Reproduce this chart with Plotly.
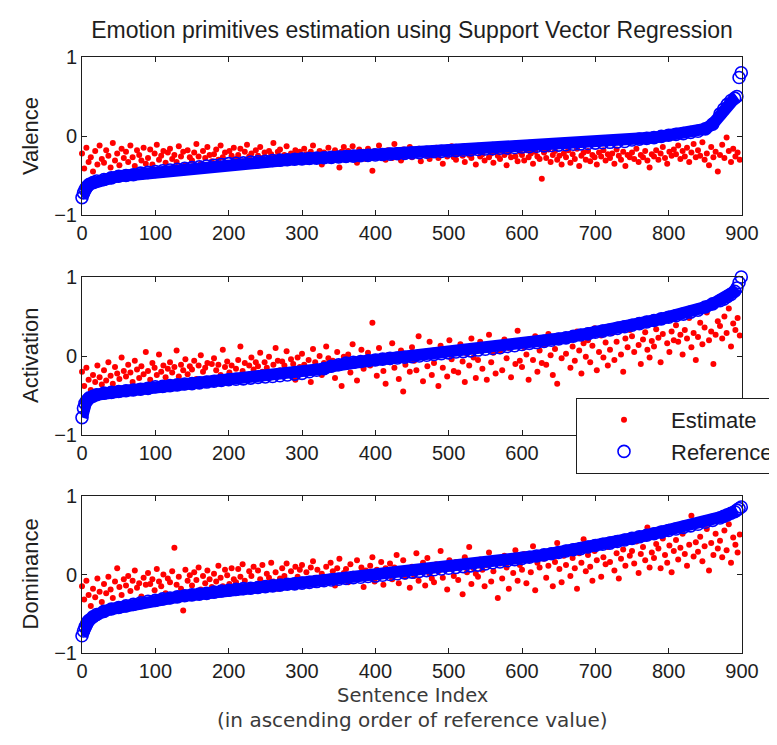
import plotly.graph_objects as go

title_text = "Emotion primitives estimation using Support Vector Regression"
panel_names = ["Valence", "Activation", "Dominance"]
x_ticks = [0, 100, 200, 300, 400, 500, 600, 700, 800, 900]
y_ticks = [-1, 0, 1]
x_title = "Sentence Index"
x_subtitle = "(in ascending order of reference value)"

# sentence indices at which the (sorted) reference values are read
ref_index = [0, 2, 4, 6, 8, 10, 15, 20] + list(range(30, 861, 10)) + [870, 875, 880, 885, 890, 893, 896, 899]

valence_ref = [
    -0.78, -0.72, -0.68, -0.65, -0.63, -0.61, -0.59, -0.57, -0.55, -0.53,
    -0.51, -0.50, -0.49, -0.47, -0.46, -0.45, -0.44, -0.43, -0.42, -0.41,
    -0.40, -0.39, -0.38, -0.37, -0.36, -0.35, -0.345, -0.34, -0.33, -0.325,
    -0.32, -0.31, -0.305, -0.30, -0.295, -0.29, -0.285, -0.28, -0.275, -0.27,
    -0.265, -0.26, -0.255, -0.25, -0.245, -0.24, -0.235, -0.23, -0.225, -0.22,
    -0.215, -0.21, -0.205, -0.20, -0.195, -0.19, -0.185, -0.18, -0.175, -0.17,
    -0.165, -0.16, -0.155, -0.15, -0.145, -0.14, -0.135, -0.13, -0.125, -0.12,
    -0.115, -0.11, -0.105, -0.10, -0.095, -0.09, -0.085, -0.08, -0.075, -0.07,
    -0.05, -0.04, -0.03, -0.02, -0.005, 0.01, 0.02, 0.03, 0.045, 0.06,
    0.09, 0.15, 0.28, 0.34, 0.40, 0.45, 0.48, 0.50, 0.74, 0.80,
]
activation_ref = [
    -0.78, -0.66, -0.60, -0.57, -0.55, -0.53, -0.51, -0.49, -0.47, -0.46,
    -0.45, -0.44, -0.43, -0.42, -0.41, -0.39, -0.385, -0.375, -0.365, -0.355,
    -0.35, -0.34, -0.33, -0.32, -0.31, -0.30, -0.295, -0.29, -0.28, -0.27,
    -0.265, -0.26, -0.25, -0.24, -0.23, -0.22, -0.20, -0.18, -0.16, -0.13,
    -0.11, -0.09, -0.08, -0.07, -0.06, -0.05, -0.04, -0.03, -0.025, -0.015,
    -0.01, 0.0, 0.01, 0.02, 0.03, 0.04, 0.05, 0.055, 0.065, 0.075,
    0.085, 0.095, 0.105, 0.12, 0.13, 0.145, 0.16, 0.17, 0.185, 0.20,
    0.215, 0.23, 0.25, 0.265, 0.28, 0.30, 0.315, 0.33, 0.35, 0.37,
    0.39, 0.41, 0.43, 0.45, 0.47, 0.49, 0.51, 0.53, 0.555, 0.58,
    0.62, 0.66, 0.70, 0.72, 0.75, 0.78, 0.82, 0.86, 0.93, 1.0,
]
dominance_ref = [
    -0.78, -0.72, -0.67, -0.63, -0.60, -0.58, -0.54, -0.51, -0.47, -0.44,
    -0.42, -0.40, -0.38, -0.36, -0.34, -0.33, -0.31, -0.30, -0.285, -0.27,
    -0.26, -0.25, -0.24, -0.225, -0.21, -0.20, -0.19, -0.18, -0.175, -0.165,
    -0.155, -0.145, -0.135, -0.125, -0.12, -0.11, -0.10, -0.09, -0.08, -0.07,
    -0.06, -0.05, -0.04, -0.035, -0.025, -0.02, -0.01, 0.0, 0.01, 0.02,
    0.03, 0.04, 0.05, 0.06, 0.07, 0.08, 0.09, 0.10, 0.11, 0.12,
    0.135, 0.15, 0.16, 0.175, 0.19, 0.205, 0.22, 0.235, 0.25, 0.265,
    0.28, 0.30, 0.315, 0.33, 0.35, 0.37, 0.385, 0.40, 0.42, 0.44,
    0.46, 0.48, 0.50, 0.52, 0.54, 0.56, 0.58, 0.60, 0.62, 0.64,
    0.665, 0.69, 0.72, 0.74, 0.76, 0.78, 0.80, 0.82, 0.84, 0.86,
]

# estimates read at every third sentence index (0, 3, 6, ... 897)
valence_est = [
    -0.22, -0.41, -0.15, -0.33, -0.27, -0.45, -0.19, -0.36, -0.12, -0.29,
    -0.34, -0.18, -0.25, -0.40, -0.09, -0.31, -0.22, -0.37, -0.16, -0.28,
    -0.20, -0.33, -0.12, -0.27, -0.38, -0.18, -0.24, -0.31, -0.15, -0.35,
    -0.28, -0.17, -0.36, -0.22, -0.11, -0.30, -0.25, -0.19, -0.34, -0.21,
    -0.16, -0.29, -0.24, -0.33, -0.13, -0.26, -0.20, -0.37, -0.18, -0.27,
    -0.31, -0.21, -0.10, -0.26, -0.35, -0.19, -0.28, -0.14, -0.24, -0.32,
    -0.23, -0.17, -0.30, -0.12, -0.27, -0.21, -0.34, -0.19, -0.25, -0.15,
    -0.29, -0.24, -0.16, -0.32, -0.20, -0.11, -0.26, -0.22, -0.33, -0.18,
    -0.25, -0.14, -0.28, -0.21, -0.35, -0.19, -0.23, -0.09, -0.27, -0.20,
    -0.17, -0.30, -0.24, -0.13, -0.26, -0.22, -0.31, -0.18, -0.25, -0.20,
    -0.28, -0.16, -0.23, -0.33, -0.20, -0.12, -0.26, -0.24, -0.19, -0.36,
    -0.21, -0.27, -0.15, -0.24, -0.30, -0.18, -0.23, -0.40, -0.20, -0.14,
    -0.25, -0.19, -0.28, -0.13, -0.22, -0.34, -0.17, -0.24, -0.20, -0.29,
    -0.16, -0.23, -0.44, -0.19, -0.27, -0.12, -0.25, -0.21, -0.30, -0.18,
    -0.22, -0.28, -0.10, -0.24, -0.19, -0.31, -0.17, -0.26, -0.21, -0.14,
    -0.27, -0.20, -0.23, -0.16, -0.32, -0.22, -0.18, -0.25, -0.29, -0.19,
    -0.24, -0.15, -0.28, -0.21, -0.35, -0.18, -0.26, -0.20, -0.13, -0.27,
    -0.30, -0.22, -0.19, -0.25, -0.33, -0.17, -0.24, -0.28, -0.21, -0.36,
    -0.18, -0.26, -0.23, -0.31, -0.16, -0.27, -0.22, -0.34, -0.20, -0.25,
    -0.29, -0.19, -0.24, -0.37, -0.21, -0.27, -0.15, -0.26, -0.32, -0.20,
    -0.24, -0.31, -0.18, -0.27, -0.22, -0.35, -0.20, -0.26, -0.29, -0.54,
    -0.21, -0.28, -0.17, -0.33, -0.24, -0.19, -0.30, -0.25, -0.36, -0.22,
    -0.27, -0.18, -0.34, -0.23, -0.29, -0.16, -0.38, -0.25, -0.21, -0.30,
    -0.19, -0.32, -0.24, -0.27, -0.36, -0.21, -0.26, -0.18, -0.31, -0.23,
    -0.28, -0.22, -0.35, -0.17, -0.25, -0.30, -0.20, -0.38, -0.24, -0.27,
    -0.21, -0.29, -0.16, -0.33, -0.24, -0.27, -0.19, -0.31, -0.40, -0.23,
    -0.26, -0.18, -0.30, -0.22, -0.14, -0.28, -0.35, -0.20, -0.25, -0.17,
    -0.23, -0.12, -0.29, -0.19, -0.26, -0.15, -0.33, -0.21, -0.10, -0.27,
    -0.18, -0.25, -0.08, -0.30, -0.22, -0.37, -0.14, -0.27, -0.20, -0.45,
    -0.24, -0.11, -0.28, -0.02, -0.19, -0.33, -0.16, -0.26, -0.21, -0.30,
]
activation_est = [
    -0.20, -0.38, -0.15, -0.30, -0.43, -0.24, -0.33, -0.12, -0.27, -0.36,
    -0.18, -0.31, -0.08, -0.25, -0.35, -0.14, -0.22, -0.29, -0.02, -0.19,
    -0.26, -0.11, -0.21, -0.33, -0.06, -0.17, -0.28, -0.13, -0.23, 0.05,
    -0.19, -0.30, -0.09, -0.15, -0.24, 0.02, -0.20, -0.12, -0.27, -0.16,
    -0.08, -0.21, -0.14, 0.07, -0.26, -0.11, -0.18, -0.04, -0.23, -0.13,
    -0.17, -0.06, -0.29, -0.12, 0.01, -0.20, -0.15, -0.09, -0.35, -0.10,
    -0.03, -0.18, -0.11, -0.24, 0.08, -0.14, -0.07, -0.21, -0.12, -0.31,
    -0.16, -0.05, 0.12, -0.19, -0.09, -0.26, -0.12, -0.02, -0.17, -0.08,
    -0.13, 0.04, -0.20, -0.08, -0.15, -0.01, -0.27, -0.11, 0.10, -0.06,
    -0.18, -0.07, -0.12, 0.06, -0.22, -0.04, -0.10, -0.30, -0.02, -0.14,
    0.03, -0.11, -0.19, -0.05, -0.33, 0.09, -0.08, -0.15, 0.00, -0.24,
    -0.09, 0.12, -0.03, -0.17, -0.06, -0.28, 0.05, -0.12, -0.38, -0.01,
    -0.14, 0.02, -0.21, 0.15, -0.08, -0.31, -0.04, 0.08, -0.16, -0.10,
    0.04, -0.12, 0.42, -0.07, -0.25, 0.10, -0.02, -0.19, -0.35, 0.01,
    -0.08, 0.16, -0.15, -0.03, -0.29, 0.07, -0.45, -0.11, 0.03, -0.20,
    0.11, -0.06, -0.18, 0.25, -0.01, -0.32, 0.05, -0.13, 0.18, -0.24,
    -0.09, 0.02, -0.38, 0.13, -0.15, 0.06, -0.26, 0.20, -0.04, -0.19,
    0.08, -0.21, 0.15, -0.07, -0.33, 0.03, -0.12, 0.22, -0.02, -0.28,
    -0.05, 0.18, -0.16, 0.09, -0.30, 0.27, -0.08, 0.04, -0.22, 0.12,
    0.06, -0.18, 0.21, -0.03, 0.10, -0.27, 0.15, -0.10, 0.32, -0.06,
    -0.14, 0.11, 0.02, -0.30, 0.19, -0.05, 0.25, -0.20, 0.07, -0.09,
    0.14, -0.11, 0.28, 0.01, -0.24, 0.09, -0.35, 0.18, -0.03, 0.22,
    0.03, 0.24, -0.15, 0.12, -0.06, 0.31, 0.07, -0.22, 0.16, -0.01,
    0.20, -0.08, 0.13, 0.35, -0.18, 0.05, 0.26, -0.02, 0.17, -0.12,
    0.08, 0.29, -0.05, 0.18, 0.40, 0.02, -0.20, 0.22, 0.11, 0.33,
    0.25, 0.05, 0.38, 0.14, -0.10, 0.21, 0.30, 0.08, -0.02, 0.19,
    0.12, 0.34, 0.23, -0.08, 0.28, 0.45, 0.16, 0.05, 0.31, 0.20,
    0.39, 0.18, 0.27, 0.02, 0.33, 0.22, 0.48, 0.11, 0.29, -0.05,
    0.24, 0.42, 0.15, 0.36, 0.55, 0.20, 0.31, -0.10, 0.27, 0.44,
    0.38, 0.22, 0.50, 0.29, 0.60, 0.12, 0.41, 0.33, 0.48, 0.26,
]
dominance_est = [
    -0.15, -0.32, -0.08, -0.26, -0.40, -0.18, -0.29, -0.05, -0.22, -0.35,
    -0.12, -0.24, -0.03, -0.19, -0.30, -0.09, 0.08, -0.16, -0.26, -0.06,
    -0.14, -0.02, -0.21, -0.08, 0.05, -0.17, -0.11, -0.28, -0.04, -0.13,
    0.02, -0.12, -0.06, -0.20, 0.07, -0.09, -0.15, 0.00, -0.24, -0.05,
    -0.10, 0.04, 0.34, -0.13, -0.03, -0.18, -0.46, 0.06, -0.08, -0.01,
    -0.14, 0.03, -0.07, 0.09, -0.19, -0.02, -0.11, 0.05, -0.06, -0.16,
    0.01, -0.09, 0.11, -0.04, -0.15, 0.06, -0.01, -0.12, 0.08, -0.06,
    -0.10, 0.07, -0.03, 0.13, -0.08, -0.17, 0.04, -0.02, 0.10, -0.13,
    0.05, -0.06, 0.12, -0.11, 0.01, -0.04, 0.15, -0.09, 0.03, -0.18,
    -0.05, 0.08, -0.02, 0.14, -0.10, 0.04, -0.15, 0.10, -0.03, 0.06,
    0.12, -0.07, 0.03, -0.13, 0.09, 0.17, -0.04, 0.06, -0.10, 0.01,
    -0.03, 0.10, -0.08, 0.15, 0.04, -0.14, 0.08, 0.20, -0.05, 0.02,
    0.07, -0.10, 0.13, 0.01, -0.06, 0.18, -0.02, 0.09, -0.16, 0.05,
    -0.04, 0.11, 0.22, -0.09, 0.06, -0.01, 0.16, -0.13, 0.08, 0.03,
    0.14, -0.06, 0.09, 0.25, -0.11, 0.02, 0.18, -0.03, 0.07, -0.17,
    0.10, -0.02, 0.27, -0.08, 0.05, 0.15, -0.14, 0.21, 0.01, -0.05,
    -0.10, 0.13, 0.04, 0.30, -0.04, 0.09, -0.19, 0.18, 0.07, -0.02,
    0.16, -0.07, 0.11, -0.25, 0.22, 0.03, 0.35, -0.12, 0.08, 0.01,
    -0.03, 0.19, 0.06, -0.15, 0.12, 0.28, -0.09, 0.04, 0.21, -0.30,
    0.14, -0.05, 0.24, 0.09, -0.18, 0.17, 0.02, 0.31, -0.08, 0.12,
    0.06, 0.26, -0.11, 0.18, 0.03, 0.36, -0.20, 0.15, 0.09, 0.22,
    0.20, -0.04, 0.11, 0.29, -0.15, 0.16, 0.40, 0.07, -0.10, 0.24,
    0.12, 0.33, -0.02, 0.21, 0.08, -0.18, 0.27, 0.15, 0.45, 0.04,
    0.25, 0.10, -0.08, 0.30, 0.18, 0.40, -0.03, 0.22, 0.13, 0.35,
    0.16, 0.38, 0.05, 0.27, -0.05, 0.20, 0.32, 0.11, 0.44, 0.24,
    0.30, 0.14, 0.42, 0.02, 0.26, 0.35, 0.18, 0.60, 0.09, 0.28,
    0.21, 0.39, 0.33, 0.08, 0.46, 0.25, 0.15, 0.37, 0.03, 0.30,
    0.44, 0.19, 0.34, 0.52, 0.26, 0.11, 0.38, 0.75, 0.23, 0.41,
    0.29, 0.48, 0.17, 0.36, 0.58, 0.05, 0.40, 0.25, 0.52, 0.33,
    0.43, 0.22, 0.56, 0.31, 0.64, 0.15, 0.47, 0.38, 0.28, 0.51,
]

EST_STEP = 3
OFF = 8                      # the page body margin shifts the figure by 8px
W, H = 777 - OFF, 745 - OFF
L, R, T, B = 82 - OFF, 35, 57 - OFF, 92
plot_h = H - T - B
plot_w = W - L - R


def ypaper(py):              # py: pixel row in the reference picture
    return (H - B - (py - OFF)) / plot_h


def xpaper(px):              # px: pixel column in the reference picture
    return (px - OFF - L) / plot_w


domains = [[ypaper(215), 1.0], [ypaper(435), ypaper(277)], [0.0, ypaper(496)]]
AX_COL = "#1e1e1e"
FONT = "Liberation Sans, Arial, sans-serif"
FONT2 = "DejaVu Sans, sans-serif"
LEGEND_X = 576               # left edge of the legend box (reference px)

fig = go.Figure()
est_lists = [valence_est, activation_est, dominance_est]
ref_lists = [valence_ref, activation_ref, dominance_ref]
for k in range(3):
    sfx = "" if k == 0 else str(k + 1)
    xa, ya = "x" + sfx, "y" + sfx
    est = est_lists[k]
    fig.add_trace(go.Scatter(
        x=list(range(0, EST_STEP * len(est), EST_STEP)), y=est, mode="markers",
        marker=dict(color="#ff0000", size=6, symbol="circle"),
        name="Estimate", showlegend=(k == 0), cliponaxis=False, xaxis=xa, yaxis=ya))
    ref = ref_lists[k]
    fig.add_trace(go.Scatter(
        x=ref_index[:-2], y=ref[:-2], mode="lines",
        line=dict(color="#0000ff", width=12), showlegend=False,
        hoverinfo="skip", xaxis=xa, yaxis=ya))
    fig.add_trace(go.Scatter(
        x=ref_index, y=ref, mode="markers",
        marker=dict(symbol="circle-open", size=12, color="#0000ff",
                    line=dict(width=1.6, color="#0000ff")),
        name="Reference", showlegend=(k == 0), cliponaxis=False, xaxis=xa, yaxis=ya))

    # the legend box hides the middle panel's right-hand tick labels
    hidden_from = (LEGEND_X - 82) / 660 * 900 if k == 1 else 1e9
    tick_text = [str(v) if v < hidden_from else "" for v in x_ticks]

    fig.layout["xaxis" + sfx] = dict(
        domain=[0, 1], range=[0, 900], tickvals=x_ticks, ticktext=tick_text,
        ticks="inside", ticklen=5,
        tickcolor=AX_COL, mirror="ticks", showline=True, linecolor=AX_COL, linewidth=1,
        showgrid=False, zeroline=False, anchor=ya,
        tickfont=dict(size=20, family=FONT, color=AX_COL))
    fig.layout["yaxis" + sfx] = dict(
        domain=domains[k], range=[-1, 1], tickvals=y_ticks, ticks="inside", ticklen=5,
        tickcolor=AX_COL, mirror="ticks", showline=True, linecolor=AX_COL, linewidth=1,
        showgrid=False, zeroline=False, anchor=xa,
        tickfont=dict(size=20, family=FONT, color=AX_COL))

annotations = []
for k in range(3):
    mid = (domains[k][0] + domains[k][1]) / 2
    annotations.append(dict(text=panel_names[k], xref="paper", yref="paper",
                            x=xpaper(30), y=mid, textangle=-90, showarrow=False,
                            xanchor="center", yanchor="middle",
                            font=dict(size=22, family=FONT, color=AX_COL)))
annotations.append(dict(text=x_title, xref="paper", yref="paper", x=0.5, y=ypaper(695),
                        showarrow=False, xanchor="center", yanchor="middle",
                        font=dict(size=19.5, family=FONT2, color="#3a3a3a")))
annotations.append(dict(text=x_subtitle, xref="paper", yref="paper", x=0.5, y=ypaper(720),
                        showarrow=False, xanchor="center", yanchor="middle",
                        font=dict(size=20, family=FONT2, color="#3a3a3a")))

fig.update_layout(
    width=W, height=H,
    margin=dict(l=L, r=R, t=T, b=B, autoexpand=False),
    paper_bgcolor="white", plot_bgcolor="white",
    title=dict(text=title_text, x=0.5, xref="paper", y=1 - (30 - OFF) / H, yref="container",
               xanchor="center", yanchor="middle",
               font=dict(size=23, family=FONT, color=AX_COL)),
    annotations=annotations,
    legend=dict(x=xpaper(LEGEND_X), y=ypaper(398), xanchor="left", yanchor="top",
                bordercolor=AX_COL, borderwidth=1, bgcolor="white",
                itemwidth=84, entrywidth=160, entrywidthmode="pixels",
                font=dict(size=22, family=FONT, color=AX_COL)),
    showlegend=True,
)

fig.write_html("out.html")
